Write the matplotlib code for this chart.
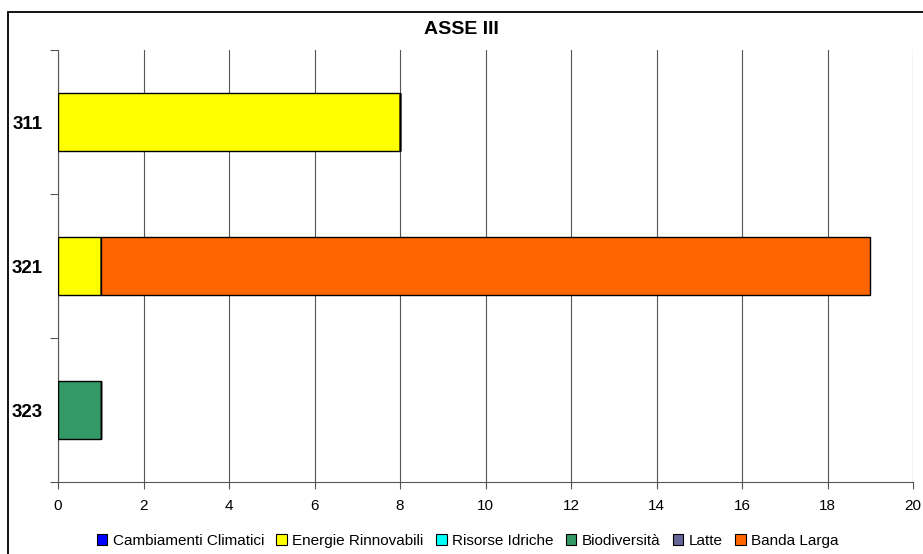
import matplotlib
matplotlib.use("Agg")
import matplotlib.pyplot as plt
from matplotlib.patches import Rectangle
import numpy as np

plt.rcParams['font.family'] = ['Liberation Sans', 'DejaVu Sans']

categories = ["311", "321", "323"]
series_names = ["Cambiamenti Climatici", "Energie Rinnovabili", "Risorse Idriche",
                "Biodiversità", "Latte", "Banda Larga"]
series_values = {
    "Cambiamenti Climatici": [0, 0, 0],
    "Energie Rinnovabili": [8, 1, 0],
    "Risorse Idriche": [0, 0, 0],
    "Biodiversità": [0, 0, 1],
    "Latte": [0, 0, 0],
    "Banda Larga": [0, 18, 0],
}
colors = ["#0000FF", "#FFFF00", "#00FFFF", "#339966", "#666699", "#FF6600"]
xticks = [0, 2, 4, 6, 8, 10, 12, 14, 16, 18, 20]

W, H = 923, 554
fig = plt.figure(figsize=(W / 100, H / 100), dpi=100)
ax = fig.add_axes([58 / W, 1 - 482 / H, (913 - 58) / W, (482 - 50) / H])

# figure border
fig.patches.append(Rectangle((8 / W, -0.1), 1.2, 1 - 12 / H + 0.1,
                             transform=fig.transFigure, fill=False,
                             edgecolor="black", linewidth=1.3))

y = np.arange(len(categories))
left = np.zeros(len(categories))
handles = []
for name, c in zip(series_names, colors):
    vals = np.array(series_values[name], dtype=float)
    ax.barh(y, vals, left=left, height=0.4, color=c, edgecolor="black",
            linewidth=1.0, zorder=3)
    left += vals
    handles.append(Rectangle((0, 0), 1, 1, facecolor=c, edgecolor="black", linewidth=0.8))

ax.set_xlim(0, 20)
ax.set_ylim(len(categories) - 0.5, -0.5)
ax.set_xticks(xticks)
ax.set_xticklabels([str(t) for t in xticks], fontsize=11)
ax.set_yticks(y)
ax.set_yticklabels(categories, fontsize=13.5, fontweight="bold")
ax.tick_params(axis="y", length=0, pad=11)
ax.set_yticks(np.arange(-0.5, len(categories), 1.0), minor=True)
ax.tick_params(axis="y", which="minor", length=6, width=0.8, color="#555555")
ax.tick_params(axis="x", length=5, width=0.8, color="#555555", pad=7)
ax.xaxis.grid(True, color="#555555", linewidth=0.8, zorder=0)
ax.set_axisbelow(True)
for s in ["top", "right"]:
    ax.spines[s].set_visible(False)
ax.spines["left"].set_color("#555555")
ax.spines["bottom"].set_color("#555555")

fig.text(0.5, 1 - 30 / H, "ASSE III", ha="center", va="center",
         fontsize=14, fontweight="bold")

fig.legend(handles, series_names, loc="center", bbox_to_anchor=(0.5066, 1 - 541 / H),
           ncol=6, frameon=False, fontsize=11, handlelength=0.7, handleheight=0.7,
           handletextpad=0.35, columnspacing=0.8, borderaxespad=0)

fig.savefig("out.png", dpi=100)
